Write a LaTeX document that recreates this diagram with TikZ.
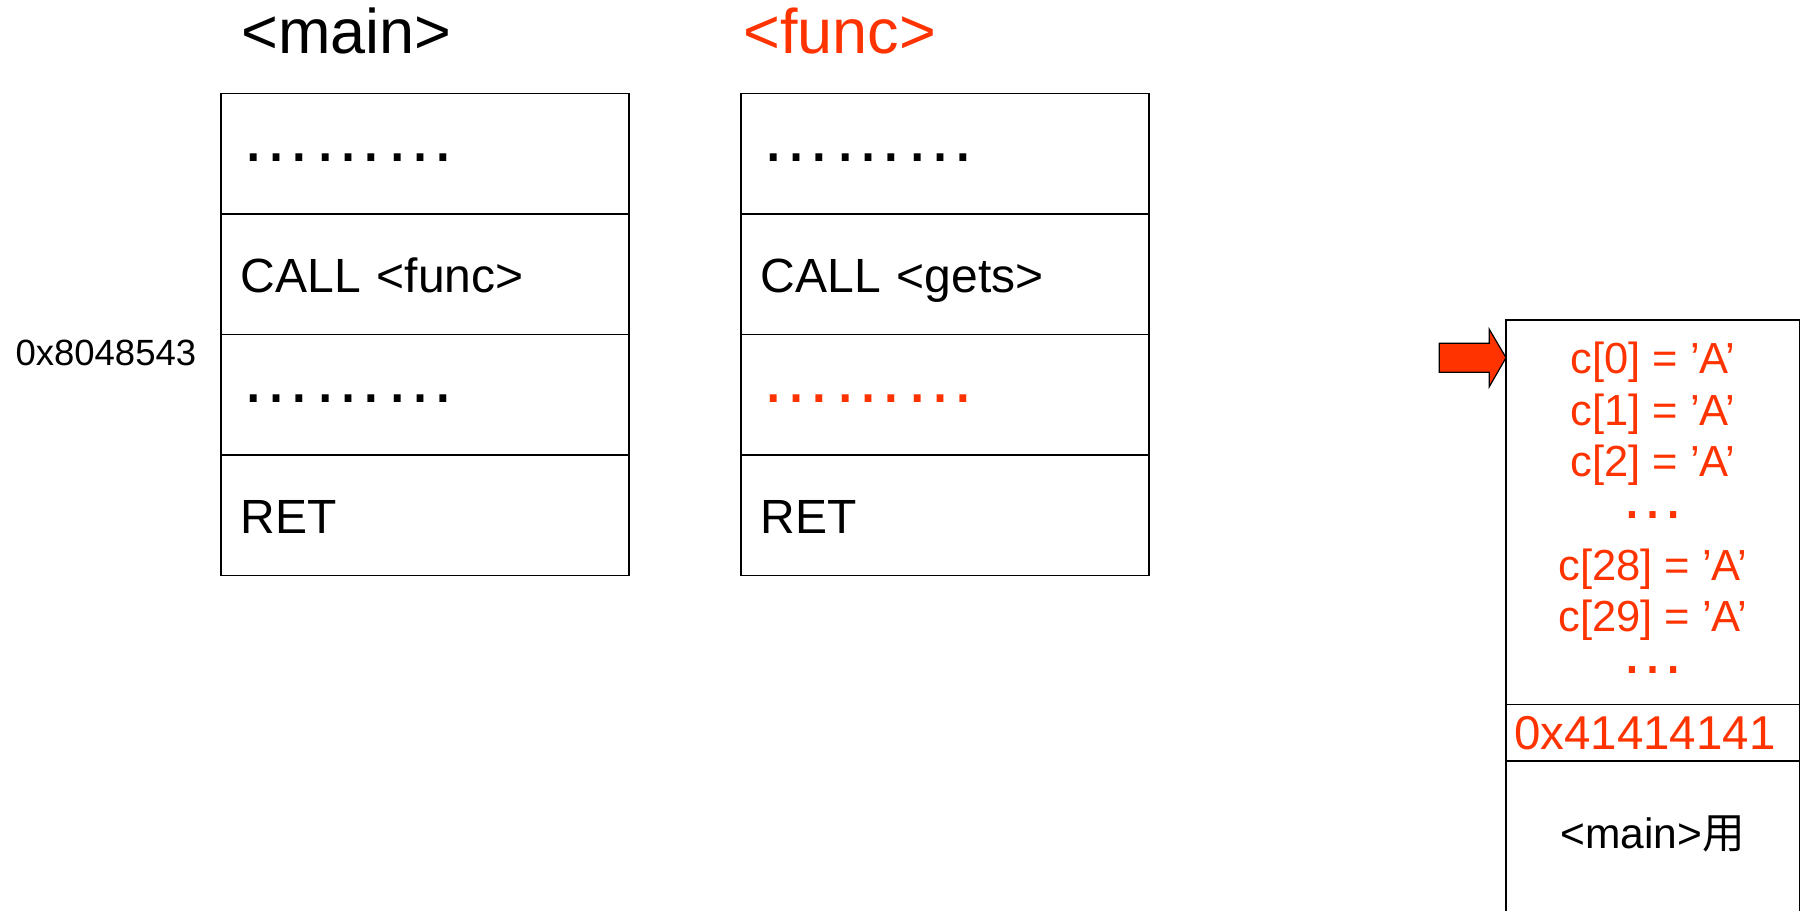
\documentclass[tikz,border=0pt]{standalone}
\usepackage{fontspec}
\setmainfont{Liberation Sans}
\newfontfamily\cjk{Noto Sans CJK JP}
\usetikzlibrary{positioning}
\definecolor{stackRed}{RGB}{255,51,0}
\newcommand{\pxfont}[1]{\fontsize{#1}{#1}\selectfont}

\begin{document}
\begin{tikzpicture}[x=1pt, y=-1pt,
  cell/.style={rectangle, draw, line width=1.6pt, outer sep=0pt,
               minimum width=408.3pt, minimum height=120.5pt,
               text width=368.3pt, text height=37pt, text depth=0pt,
               inner xsep=20pt, inner ysep=0pt, align=left, font=\pxfont{48}},
  dotcell/.style={cell, text height=16pt, font=\pxfont{72}},
  slot/.style={rectangle, draw, line width=1.6pt, outer sep=0pt,
               minimum width=293.5pt, inner sep=0pt},
  title/.style={anchor=base west, font=\pxfont{63}}]
  \clip (0,0) rectangle (1801,910);

  % code of <main>
  \node[title] (mainTitle) at (238,53.3) {<main>};
  \node[dotcell] (m1) at (424.85,153.55) {………};
  \node[cell, below=0pt of m1] (m2) {CALL <func>};
  \node[dotcell, below=0pt of m2] (m3) {………};
  \node[cell, below=0pt of m3] (m4) {RET};
  \node[anchor=base west, font=\pxfont{36.5}] (retAddr) at (12,365) {0x8048543};

  % code of <func>
  \node[title, text=stackRed] (funcTitle) at (739.7,53.3) {<func>};
  \node[dotcell] (f1) at (944.85,153.55) {………};
  \node[cell, below=0pt of f1] (f2) {CALL <gets>};
  \node[dotcell, below=0pt of f2, text=stackRed] (f3) {………};
  \node[cell, below=0pt of f3] (f4) {RET};

  % stack after gets()
  \node[slot, minimum height=384.3pt] (s1) at (1652.75,512.15) {};
  \node[slot, minimum height=56.7pt, below=0pt of s1, text width=277.5pt,
        inner xsep=8pt, align=left, font=\pxfont{47.5}, text=stackRed] (s2) {0x41414141};
  \node[slot, minimum height=200pt, below=0pt of s2] (s3) {};

  \foreach \idx/\yy in {0/373.3,1/425,2/476.7,28/580,29/631.7}
    \node[anchor=base, text=stackRed, font=\pxfont{43.5}] (c\idx) at (s1.center |- 0,\yy) {c[\idx] = ’A’};
  \node[anchor=base, text=stackRed, font=\pxfont{65}] (gapA) at (s1.center |- 0,518.3) {…};
  \node[anchor=base, text=stackRed, font=\pxfont{65}] (gapB) at (s1.center |- 0,673) {…};
  \node[anchor=base, font=\pxfont{42.5}] (mainUse) at (s3.north |- 0,848) {<main>{\cjk 用}};

  % pointer into the buffer
  \coordinate (ptrTip) at (s1.west |- 0,357.7);
  \draw[fill=stackRed, line width=1.2pt, line join=miter]
    (1439.3,343.3) -- (1489.3,343.3) -- (1489.3,329.3) -- (ptrTip)
    -- (1489.3,386.7) -- (1489.3,372.3) -- (1439.3,372.3) -- cycle;
\end{tikzpicture}
\end{document}
